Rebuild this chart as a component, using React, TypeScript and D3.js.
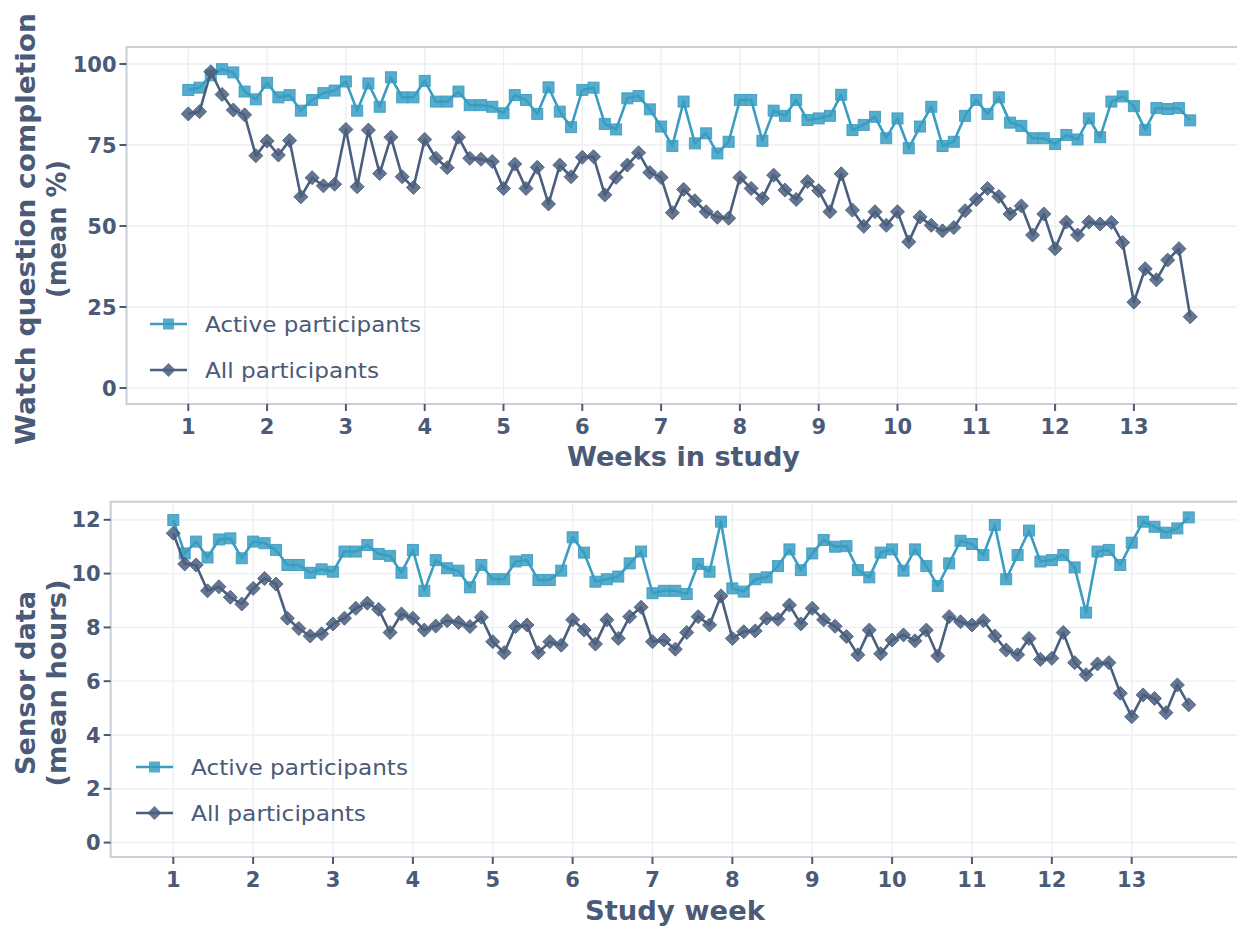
import React from 'react';
import * as d3 from 'd3';

// ---------- data ----------
const studyDays = d3.range(90); // daily observations, day 0 = start of week 1
const weekTicks = [1, 2, 3, 4, 5, 6, 7, 8, 9, 10, 11, 12, 13];
const watchYTicks = [0, 25, 50, 75, 100];
const sensorYTicks = [0, 2, 4, 6, 8, 10, 12];
const seriesNames = ['Active participants', 'All participants'];

const watchActive = [
  92.0, 92.7, 96.5, 98.4, 97.4, 91.5, 89.1, 94.2, 89.7, 90.4,
  85.6, 88.9, 91.0, 91.8, 94.6, 85.6, 94.0, 86.8, 95.9, 89.7,
  89.7, 94.8, 88.4, 88.4, 91.5, 87.3, 87.3, 86.8, 84.8, 90.4,
  88.9, 84.6, 92.8, 85.3, 80.5, 92.0, 92.7, 81.5, 79.8, 89.4,
  90.1, 86.0, 80.7, 74.7, 88.4, 75.5, 78.6, 72.4, 76.0, 88.9,
  88.9, 76.3, 85.6, 84.0, 88.9, 82.7, 83.2, 84.0, 90.5, 79.6,
  81.2, 83.7, 77.1, 83.2, 74.0, 80.7, 86.8, 74.7, 76.0, 84.0,
  88.9, 84.6, 89.7, 81.9, 80.9, 77.1, 77.1, 75.3, 78.1, 76.7,
  83.2, 77.4, 88.4, 90.0, 87.0, 79.7, 86.4, 86.1, 86.4, 82.6,
];
const watchAll = [
  84.6, 85.3, 97.6, 90.6, 85.8, 84.3, 71.7, 76.2, 71.9, 76.4,
  59.0, 64.9, 62.4, 62.9, 79.8, 62.1, 79.6, 66.2, 77.4, 65.2,
  61.9, 76.7, 70.9, 68.0, 77.4, 70.9, 70.6, 69.9, 61.6, 69.1,
  61.6, 68.1, 56.8, 68.8, 65.2, 71.2, 71.4, 59.6, 65.0, 68.8,
  72.6, 66.5, 65.0, 54.1, 61.3, 57.8, 54.4, 52.7, 52.4, 65.0,
  61.6, 58.5, 65.7, 61.1, 58.2, 63.7, 60.9, 54.4, 66.1, 54.9,
  49.9, 54.4, 50.2, 54.4, 45.1, 52.8, 50.2, 48.5, 49.5, 54.7,
  58.2, 61.6, 59.1, 53.7, 56.2, 47.2, 53.7, 43.0, 51.2, 47.2,
  51.2, 50.6, 51.1, 44.9, 26.5, 36.8, 33.4, 39.5, 43.0, 22.0,
];
const sensorActive = [
  11.99, 10.75, 11.19, 10.6, 11.27, 11.31, 10.57, 11.19, 11.13, 10.88,
  10.32, 10.32, 10.03, 10.16, 10.07, 10.82, 10.82, 11.06, 10.73, 10.66,
  10.03, 10.88, 9.36, 10.5, 10.2, 10.11, 9.49, 10.32, 9.79, 9.79,
  10.45, 10.5, 9.76, 9.76, 10.11, 11.35, 10.78, 9.7, 9.79, 9.89,
  10.38, 10.82, 9.27, 9.36, 9.36, 9.24, 10.36, 10.07, 11.93, 9.45,
  9.33, 9.79, 9.86, 10.28, 10.9, 10.13, 10.75, 11.25, 11.0, 11.02,
  10.13, 9.86, 10.78, 10.9, 10.11, 10.9, 10.28, 9.54, 10.38, 11.22,
  11.1, 10.69, 11.81, 9.79, 10.69, 11.6, 10.45, 10.5, 10.69, 10.23,
  8.55, 10.82, 10.88, 10.32, 11.15, 11.93, 11.74, 11.52, 11.68, 12.09,
];
const sensorAll = [
  11.5, 10.36, 10.32, 9.36, 9.51, 9.12, 8.87, 9.45, 9.82, 9.61,
  8.34, 7.96, 7.68, 7.76, 8.13, 8.34, 8.71, 8.9, 8.67, 7.81,
  8.5, 8.34, 7.9, 8.05, 8.25, 8.18, 8.03, 8.38, 7.47, 7.06,
  8.03, 8.09, 7.06, 7.47, 7.34, 8.28, 7.9, 7.38, 8.28, 7.59,
  8.4, 8.75, 7.47, 7.53, 7.19, 7.81, 8.4, 8.09, 9.17, 7.59,
  7.84, 7.87, 8.34, 8.3, 8.83, 8.13, 8.71, 8.28, 8.04, 7.66,
  6.98, 7.9, 7.02, 7.53, 7.72, 7.5, 7.9, 6.94, 8.4, 8.21,
  8.09, 8.25, 7.68, 7.16, 6.98, 7.59, 6.81, 6.85, 7.81, 6.69,
  6.24, 6.64, 6.69, 5.55, 4.68, 5.49, 5.36, 4.83, 5.86, 5.12,
];

// ---------- style ----------
const FONT = "'DejaVu Sans', 'Noto Sans', sans-serif";
const TEXT = '#4a5a77';
const CYAN = '#3a9dc2';
const SLATE = '#4a5e7e';
const GRID = '#eceef2';
const BORDER = '#c9ced7';

type PanelProps = {
  left: number; top: number; right: number; bottom: number;
  xAt1: number; xAt13: number;
  yDomain: [number, number]; yRange: [number, number];
  yTicks: number[];
  active: number[]; all: number[];
  yTitle: [string, string]; yTitleLen: [number, number]; yTitleCenter: number;
  xTitle: string; xTitleX: number; xTitleY: number; xTitleLen: number;
  legendX: number; legendY1: number; legendY2: number; legendLens: [number, number];
};

function diamond(cx: number, cy: number, r: number) {
  return `M${cx},${cy - r}L${cx + r},${cy}L${cx},${cy + r}L${cx - r},${cy}Z`;
}

function Panel(p: PanelProps) {
  const x = d3.scaleLinear().domain([1, 13]).range([p.xAt1, p.xAt13]);
  const y = d3.scaleLinear().domain(p.yDomain).range(p.yRange);
  const wk = (d: number) => 1 + d / 7;
  const lineGen = (vals: number[]) =>
    d3.line<number>().x((_, i) => x(wk(studyDays[i]))).y(v => y(v))(vals) || '';
  const tickLen = 7;
  const sq = 11;
  return (
    <g>
      {weekTicks.map(t => (
        <line key={'vx' + t} x1={x(t)} x2={x(t)} y1={p.top} y2={p.bottom} stroke={GRID} strokeWidth={1.3} />
      ))}
      {p.yTicks.map(t => (
        <line key={'hy' + t} x1={p.left} x2={p.right} y1={y(t)} y2={y(t)} stroke={GRID} strokeWidth={1.3} />
      ))}
      <rect x={p.left} y={p.top} width={p.right - p.left} height={p.bottom - p.top} fill="none" stroke={BORDER} strokeWidth={2} />
      {p.yTicks.map(t => (
        <g key={'yt' + t}>
          <line x1={p.left - tickLen} x2={p.left} y1={y(t)} y2={y(t)} stroke={TEXT} strokeWidth={2} />
          <text x={p.left - tickLen - 3} y={y(t) + 7.5} textAnchor="end" fontFamily={FONT} fontWeight={700} fontSize={21} fill={TEXT}>{t}</text>
        </g>
      ))}
      {weekTicks.map(t => (
        <g key={'xt' + t}>
          <line x1={x(t)} x2={x(t)} y1={p.bottom} y2={p.bottom + tickLen} stroke={TEXT} strokeWidth={2} />
          <text x={x(t)} y={p.bottom + 30} textAnchor="middle" fontFamily={FONT} fontWeight={700} fontSize={21} fill={TEXT}>{t}</text>
        </g>
      ))}
      <path d={lineGen(p.active)} fill="none" stroke={CYAN} strokeWidth={2.6} strokeLinejoin="round" />
      {p.active.map((v, i) => (
        <rect key={'a' + i} x={x(wk(studyDays[i])) - sq / 2} y={y(v) - sq / 2} width={sq} height={sq}
          fill={CYAN} fillOpacity={0.85} stroke={CYAN} strokeOpacity={0.9} strokeWidth={1} />
      ))}
      <path d={lineGen(p.all)} fill="none" stroke={SLATE} strokeWidth={2.6} strokeLinejoin="round" />
      {p.all.map((v, i) => (
        <path key={'l' + i} d={diamond(x(wk(studyDays[i])), y(v), 7)}
          fill={SLATE} fillOpacity={0.85} stroke={SLATE} strokeOpacity={0.9} strokeWidth={1} />
      ))}
      <g>
        <line x1={p.legendX} x2={p.legendX + 37} y1={p.legendY1} y2={p.legendY1} stroke={CYAN} strokeWidth={2.5} />
        <rect x={p.legendX + 18.5 - 5.5} y={p.legendY1 - 5.5} width={11} height={11} fill={CYAN} fillOpacity={0.85} />
        <text x={p.legendX + 55} y={p.legendY1 + 8} fontFamily={FONT} fontSize={21} fill={TEXT}
          textLength={p.legendLens[0]} lengthAdjust="spacingAndGlyphs">{seriesNames[0]}</text>
        <line x1={p.legendX} x2={p.legendX + 37} y1={p.legendY2} y2={p.legendY2} stroke={SLATE} strokeWidth={2.5} />
        <path d={diamond(p.legendX + 18.5, p.legendY2, 7)} fill={SLATE} fillOpacity={0.85} />
        <text x={p.legendX + 55} y={p.legendY2 + 8} fontFamily={FONT} fontSize={21} fill={TEXT}
          textLength={p.legendLens[1]} lengthAdjust="spacingAndGlyphs">{seriesNames[1]}</text>
      </g>
      <text transform={`translate(35,${p.yTitleCenter}) rotate(-90)`} textAnchor="middle" fontFamily={FONT}
        fontWeight={700} fontSize={27} fill={TEXT} textLength={p.yTitleLen[0]} lengthAdjust="spacingAndGlyphs">{p.yTitle[0]}</text>
      <text transform={`translate(66,${p.yTitleCenter}) rotate(-90)`} textAnchor="middle" fontFamily={FONT}
        fontWeight={700} fontSize={27} fill={TEXT} textLength={p.yTitleLen[1]} lengthAdjust="spacingAndGlyphs">{p.yTitle[1]}</text>
      <text x={p.xTitleX} y={p.xTitleY} textAnchor="middle" fontFamily={FONT} fontWeight={700} fontSize={27}
        fill={TEXT} textLength={p.xTitleLen} lengthAdjust="spacingAndGlyphs">{p.xTitle}</text>
    </g>
  );
}

export default function App() {
  return (
    <svg width={1237} height={927} style={{ position: 'absolute', left: 0, top: 0, background: '#fff' }}>
      <rect x={0} y={0} width={1237} height={927} fill="#fff" />
      <Panel
        left={126.5} top={47} right={1240} bottom={404}
        xAt1={188.3} xAt13={1133.9}
        yDomain={[0, 100]} yRange={[388, 64]} yTicks={watchYTicks}
        active={watchActive} all={watchAll}
        yTitle={['Watch question completion', '(mean %)']} yTitleLen={[432, 138]} yTitleCenter={229}
        xTitle="Weeks in study" xTitleX={683.5} xTitleY={466} xTitleLen={233}
        legendX={150} legendY1={324} legendY2={370} legendLens={[216, 174]}
      />
      <Panel
        left={110.7} top={501.7} right={1240} bottom={857}
        xAt1={173.3} xAt13={1131.7}
        yDomain={[0, 12]} yRange={[842.6, 519.8]} yTicks={sensorYTicks}
        active={sensorActive} all={sensorAll}
        yTitle={['Sensor data', '(mean hours)']} yTitleLen={[184, 207]} yTitleCenter={683}
        xTitle="Study week" xTitleX={675} xTitleY={920} xTitleLen={180}
        legendX={136} legendY1={767} legendY2={813} legendLens={[217, 175]}
      />
    </svg>
  );
}
